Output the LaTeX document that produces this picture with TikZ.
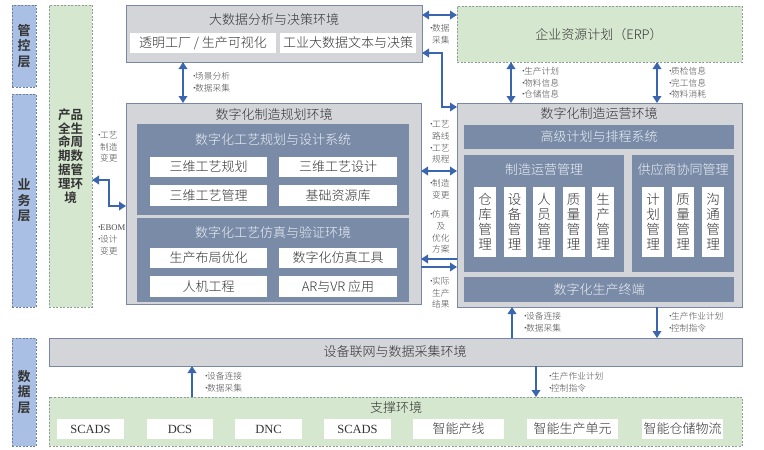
\documentclass[tikz,border=0pt]{standalone}
\usepackage{fontspec}
\IfFontExistsTF{Noto Sans CJK SC Light}{\setmainfont{Noto Sans CJK SC Light}[BoldFont={Noto Sans CJK SC Bold}]}{\setmainfont{Noto Sans CJK SC}}
\newfontfamily\latserif{Liberation Serif}
\usetikzlibrary{arrows.meta}
\definecolor{layerfill}{HTML}{A9BFE3}
\definecolor{layerline}{HTML}{6B7FA3}
\definecolor{greenfill}{HTML}{D6E7D0}
\definecolor{greenline}{HTML}{8E9C98}
\definecolor{grayfill}{HTML}{D4D5D9}
\definecolor{grayline}{HTML}{7787A5}
\definecolor{darkfill}{HTML}{7A8BA8}
\definecolor{lighttext}{HTML}{EEF1F6}
\definecolor{arrowblue}{HTML}{3A66B0}
\definecolor{maintext}{HTML}{333333}
\definecolor{labeltext}{HTML}{4A4A4A}
\newcommand\bl{\makebox[5pt][l]{·}}
\newcommand\ind{\hspace*{5pt}}
\begin{document}
\begin{tikzpicture}[x=1pt,y=-1pt,
  base/.style={rectangle,inner sep=0pt,outer sep=0pt,anchor=north west},
  layerbox/.style={base,fill=layerfill,draw=layerline,dash pattern=on 2pt off 1.5pt,line width=0.8pt},
  layertext/.style={text=maintext,font=\fontsize{13}{15.5}\selectfont\bfseries,align=center,inner sep=0pt},
  greenbox/.style={base,fill=greenfill,draw=greenline,dash pattern=on 2pt off 1.5pt,line width=0.8pt},
  graybox/.style={base,fill=grayfill,draw=grayline,line width=0.9pt},
  darkbox/.style={base,fill=darkfill},
  whitebox/.style={base,fill=white},
  vbox/.style={base,fill=white,text=maintext,font=\fontsize{13.5}{15}\selectfont,align=center,minimum width=22,minimum height=70},
  ttl/.style={inner sep=0pt,text=maintext,font=\fontsize{13}{15}\selectfont},
  lttl/.style={inner sep=0pt,text=lighttext,font=\fontsize{13}{15}\selectfont},
  lbl/.style={inner sep=0pt,text=labeltext,font=\fontsize{8.7}{11.6}\selectfont,align=left},
  conn/.style={draw=arrowblue,line width=1.8pt,-{Triangle[length=7pt,width=8.5pt]}},
  dconn/.style={draw=arrowblue,line width=1.8pt,{Triangle[length=7pt,width=8.5pt]}-{Triangle[length=7pt,width=8.5pt]}}
]
\useasboundingbox (0,0) rectangle (764,450);
% layer labels
\node[layerbox,minimum width=24,minimum height=82] (l1) at (12,5) {};
\node[layertext] (l1t) at (l1.center) {管\\控\\层};
\node[layerbox,minimum width=24,minimum height=213] (l2) at (12,94) {};
\node[layertext] (l2t) at (l2.center) {业\\务\\层};
\node[layerbox,minimum width=24,minimum height=108] (l3) at (12,338) {};
\node[layertext] (l3t) at (l3.center) {数\\据\\层};
% PLM
\node[greenbox,minimum width=43,minimum height=302] (plm) at (49,5) {};
\node[text=maintext,font=\fontsize{12.5}{13.8}\selectfont\bfseries,align=center,inner sep=0pt] (plmt) at (plm.center) {产品\\全生\\命周\\期数\\据管\\理环\\境};
% big data
\node[graybox,minimum width=296,minimum height=57] (bd) at (126,5) {};
\node[ttl] (bdt) at (274,20) {大数据分析与决策环境};
\node[whitebox,minimum width=146,minimum height=20] (bd1) at (130,33) {};
\node[ttl] (bd1t) at (bd1.center) {透明工厂 / 生产可视化};
\node[whitebox,minimum width=136,minimum height=20] (bd2) at (280,33) {};
\node[ttl] (bd2t) at (bd2.center) {工业大数据文本与决策};
% ERP
\node[greenbox,minimum width=285,minimum height=56] (erp) at (457,6) {};
\node[ttl] (erpt) at (599,35) {企业资源计划（ERP）};
% planning
\node[graybox,minimum width=295,minimum height=201] (plan) at (126,103) {};
\node[ttl] (plant) at (274,115) {数字化制造规划环境};
\node[darkbox,minimum width=272,minimum height=91] (d1) at (137,124) {};
\node[lttl] (d1t) at (273,140) {数字化工艺规划与设计系统};
\node[whitebox,minimum width=117,minimum height=20] (wa) at (150,157) {};
\node[ttl] at (wa.center) {三维工艺规划};
\node[whitebox,minimum width=118,minimum height=20] (wb) at (279,157) {};
\node[ttl] at (wb.center) {三维工艺设计};
\node[whitebox,minimum width=117,minimum height=21] (wc) at (150,185) {};
\node[ttl] at (wc.center) {三维工艺管理};
\node[whitebox,minimum width=118,minimum height=21] (wd) at (279,185) {};
\node[ttl] at (wd.center) {基础资源库};
\node[darkbox,minimum width=272,minimum height=84] (d2) at (137,218) {};
\node[lttl] (d2t) at (273,233) {数字化工艺仿真与验证环境};
\node[whitebox,minimum width=117,minimum height=20] (we) at (150,248) {};
\node[ttl] at (we.center) {生产布局优化};
\node[whitebox,minimum width=118,minimum height=20] (wf) at (279,248) {};
\node[ttl] at (wf.center) {数字化仿真工具};
\node[whitebox,minimum width=117,minimum height=21] (wg) at (150,276) {};
\node[ttl] at (wg.center) {人机工程};
\node[whitebox,minimum width=118,minimum height=21] (wh) at (279,276) {};
\node[ttl] at (wh.center) {AR与VR 应用};
% operations
\node[graybox,minimum width=285,minimum height=204] (ops) at (457,103) {};
\node[ttl] (opst) at (599,114) {数字化制造运营环境};
\node[darkbox,minimum width=270,minimum height=24] (aps) at (464,125) {};
\node[lttl] at (aps.center) {高级计划与排程系统};
\node[darkbox,minimum width=160,minimum height=117] (mom) at (464,155) {};
\node[lttl] (momt) at (544,170) {制造运营管理};
\node[vbox] (v1) at (474,187) {仓\\库\\管\\理};
\node[vbox] (v2) at (503.5,187) {设\\备\\管\\理};
\node[vbox] (v3) at (533,187) {人\\员\\管\\理};
\node[vbox] (v4) at (562.5,187) {质\\量\\管\\理};
\node[vbox] (v5) at (592,187) {生\\产\\管\\理};
\node[darkbox,minimum width=102,minimum height=117] (scm) at (632,155) {};
\node[lttl] (scmt) at (683,170) {供应商协同管理};
\node[vbox] (s1) at (642,187) {计\\划\\管\\理};
\node[vbox] (s2) at (672,187) {质\\量\\管\\理};
\node[vbox] (s3) at (702,187) {沟\\通\\管\\理};
\node[darkbox,minimum width=270,minimum height=25] (term) at (464,277) {};
\node[lttl] at (term.center) {数字化生产终端};
% network
\node[graybox,minimum width=693,minimum height=28] (net) at (49,338) {};
\node[ttl] (nett) at (395,352) {设备联网与数据采集环境};
% support
\node[greenbox,minimum width=693,minimum height=49] (sup) at (49,397) {};
\node[ttl] (supt) at (396,408) {支撑环境};
\node[whitebox,minimum width=67,minimum height=20] (e1) at (57,419) {};
\node[ttl,font=\latserif\fontsize{12.5}{14}\selectfont] at (e1.center) {SCADS};
\node[whitebox,minimum width=66,minimum height=20] (e2) at (147,419) {};
\node[ttl,font=\latserif\fontsize{12.5}{14}\selectfont] at (e2.center) {DCS};
\node[whitebox,minimum width=67,minimum height=20] (e3) at (235,419) {};
\node[ttl,font=\latserif\fontsize{12.5}{14}\selectfont] at (e3.center) {DNC};
\node[whitebox,minimum width=67,minimum height=20] (e4) at (324,419) {};
\node[ttl,font=\latserif\fontsize{12.5}{14}\selectfont] at (e4.center) {SCADS};
\node[whitebox,minimum width=91,minimum height=20] (e5) at (413,419) {};
\node[ttl] at (e5.center) {智能产线};
\node[whitebox,minimum width=91,minimum height=20] (e6) at (527,419) {};
\node[ttl] at (e6.center) {智能生产单元};
\node[whitebox,minimum width=81,minimum height=20] (e7) at (642,419) {};
\node[ttl] at (e7.center) {智能仓储物流};
% connectors
\draw[dconn] (bd.east |- 0,15) -- (erp.west |- 0,15);
\draw[dconn] (bd.east |- 0,53) -- (442,53) -- (442,107) -- (ops.west |- 0,107);
\draw[dconn] (bd.south -| 183,0) -- (plan.north -| 183,0);
\draw[dconn] (erp.south -| 511,0) -- (ops.north -| 511,0);
\draw[dconn] (erp.south -| 657,0) -- (ops.north -| 657,0);
\draw[dconn] (plm.east |- 0,180) -- (109,180) -- (109,206) -- (plan.west |- 0,206);
\draw[dconn] (plan.east |- 0,171) -- (ops.west |- 0,171);
\draw[conn] (ops.west |- 0,259) -- (plan.east |- 0,259);
\draw[conn] (plan.east |- 0,267) -- (ops.west |- 0,267);
\draw[conn] (net.north -| 512,0) -- (ops.south -| 512,0);
\draw[conn] (ops.south -| 657,0) -- (net.north -| 657,0);
\draw[conn] (sup.north -| 192,0) -- (net.south -| 192,0);
\draw[conn] (net.south -| 536,0) -- (sup.north -| 536,0);
% labels
\node[lbl,anchor=west] (lb1) at (190,82) {\bl 场景分析\\\bl 数据采集};
\node[lbl,anchor=west] (lb2) at (427,34) {\bl 数据\\\ind 采集};
\node[lbl,anchor=west] (lb3) at (519,83) {\bl 生产计划\\\bl 物料信息\\\bl 仓储信息};
\node[lbl,anchor=west] (lb4) at (666,83) {\bl 质检信息\\\bl 完工信息\\\bl 物料消耗};
\node[lbl,anchor=west] (lb5) at (427,142) {\bl 工艺\\\ind 路线\\\bl 工艺\\\ind 规程};
\node[lbl,anchor=west] (lb6) at (427,189) {\bl 制造\\\ind 变更};
\node[lbl,anchor=west] (lb7) at (427,232) {\bl 仿真\\\ind\makebox[17.4pt]{及}\\\ind 优化\\\ind 方案};
\node[lbl,anchor=west] (lb8) at (427,293) {\bl 实际\\\ind 生产\\\ind 结果};
\node[lbl,anchor=west] (lb9) at (95,147) {\bl 工艺\\\ind 制造\\\ind 变更};
\node[lbl,anchor=west] (lb10) at (95,240) {\bl {\latserif EBOM}\\\bl 设计\\\ind 变更};
\node[lbl,anchor=west] (lb11) at (521,322) {\bl 设备连接\\\bl 数据采集};
\node[lbl,anchor=west] (lb12) at (666,322) {\bl 生产作业计划\\\bl 控制指令};
\node[lbl,anchor=west] (lb13) at (202,382) {\bl 设备连接\\\bl 数据采集};
\node[lbl,anchor=west] (lb14) at (546,382) {\bl 生产作业计划\\\bl 控制指令};
\end{tikzpicture}
\end{document}
